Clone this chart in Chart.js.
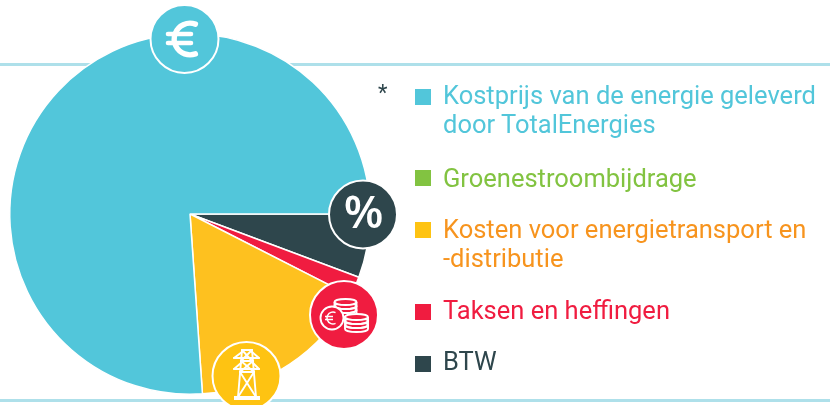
<!DOCTYPE html>
<html><head><meta charset="utf-8">
<script src="https://cdn.jsdelivr.net/npm/chart.js@4"></script>
<style>
html,body{margin:0;padding:0;background:#fff;width:830px;height:405px;overflow:hidden}
#wrap{position:relative;width:830px;height:405px}
canvas{position:absolute;left:0;top:0}
.lg{position:absolute;left:443px;font:400 25.5px/29px Roboto,sans-serif;white-space:pre;letter-spacing:0}
.sw{position:absolute;left:415px;width:16px;height:16px}
#star{position:absolute;left:378px;top:83px;font:400 22px/20px Roboto,sans-serif;color:#2e464c}
</style></head><body>
<div id="wrap"><canvas id="c" width="830" height="405"></canvas><div id="star">*</div></div>
<script>
const categories=["Kostprijs van de energie geleverd\ndoor TotalEnergies","Groenestroombijdrage","Kosten voor energietransport en\n-distributie","Taksen en heffingen","BTW"];
const shares=[76.1,0,16.4,1.8,5.7];
const sliceColors=["#52c6da","#82c341","#fec11f","#f01c40","#2e464c"];
const textColors=["#52c6da","#82c341","#f7941e","#f01c40","#2e464c"];
const legendTops=[81,164,215,296,347];
const swatchTops=[89,170,222,304,356];

const wrap=document.getElementById('wrap');
categories.forEach((t,i)=>{
  const s=document.createElement('div');s.className='sw';s.style.top=swatchTops[i]+'px';s.style.background=i===2?'#fec312':sliceColors[i];wrap.appendChild(s);
  const d=document.createElement('div');d.className='lg';d.style.top=legendTops[i]+'px';d.style.color=textColors[i];d.textContent=t;wrap.appendChild(d);
});

function disc(ctx,x,y,col){ctx.beginPath();ctx.arc(x,y,34,0,Math.PI*2);ctx.fillStyle=col;ctx.fill();ctx.lineWidth=2;ctx.strokeStyle='#fff';ctx.stroke();}
function coin(ctx,x,y,w,h,n){
  for(let i=n-1;i>=0;i--){
    const cy=y+i*h;
    ctx.beginPath();ctx.ellipse(x,cy,w,h*0.75,0,0,Math.PI*2);ctx.fillStyle='#f01c40';ctx.fill();ctx.stroke();
    ctx.beginPath();ctx.moveTo(x-w,cy);ctx.lineTo(x-w,cy+h);ctx.ellipse(x,cy+h,w,h*0.75,0,Math.PI,0,true);ctx.lineTo(x+w,cy);ctx.stroke();
  }
}
const deco={id:'deco',
 beforeDraw(ch){const c=ch.ctx;c.save();c.fillStyle='#aee0ea';c.fillRect(0,63,830,3);c.fillRect(0,399,830,3);c.restore();},
 afterDraw(ch){const c=ch.ctx;c.save();
  c.textAlign='center';c.textBaseline='middle';
  disc(c,184.5,39,sliceColors[0]);
  c.strokeStyle='#fff';c.lineWidth=5.4;c.lineCap='round';
  c.beginPath();c.arc(190,39,15.8,-70*Math.PI/180,70*Math.PI/180,true);c.stroke();
  c.lineWidth=4.6;
  c.beginPath();c.moveTo(168,34);c.lineTo(191,34);c.moveTo(168,43);c.lineTo(191,43);c.stroke();
  c.lineCap='butt';
  disc(c,363,214.5,sliceColors[4]);
  c.fillStyle='#fff';c.font='600 46px "Open Sans",sans-serif';c.fillText('%',363.5,215);
  disc(c,344,315,sliceColors[3]);
  c.strokeStyle='#fff';c.lineWidth=1.9;
  coin(c,345.5,302,11,4,3);
  coin(c,356.5,317,11.5,4,3);
  c.beginPath();c.arc(332,318,11.5,0,Math.PI*2);c.fillStyle='#f01c40';c.fill();c.stroke();
  c.lineWidth=1.5;c.beginPath();c.arc(333,318,6,-65*Math.PI/180,65*Math.PI/180,true);c.stroke();
  c.beginPath();c.moveTo(325,316.5);c.lineTo(333,316.5);c.moveTo(325,319.5);c.lineTo(333,319.5);c.stroke();
  disc(c,246.5,376,'#fec312');
  c.strokeStyle='#fff';c.lineWidth=1.9;c.lineCap='round';
  const t=[[238,397,242,350],[256,397,252,350],[242,350,252,350],[241,361,253,361],[240,372,254,372],[234,358,259,358],[234,369,259,369],[242,350,252,361],[252,350,241,361],[241,361,254,372],[253,361,240,372],[240,372,256,397],[254,372,238,397],[234,358,242,352],[259,358,252,352],[234,369,241,363],[259,369,253,363]];
  t.forEach(s=>{c.beginPath();c.moveTo(s[0],s[1]);c.lineTo(s[2],s[3]);c.stroke();});
  c.lineCap='butt';c.fillStyle='#fff';c.fillRect(234,396,26,4);
  c.restore();}
};
new Chart(document.getElementById('c'),{
 type:'pie',
 data:{labels:[...categories].reverse(),datasets:[{data:[...shares].reverse(),backgroundColor:[...sliceColors].reverse(),borderColor:'#fff',borderWidth:1.5}]},
 options:{responsive:false,animation:false,rotation:90,
  layout:{padding:{left:9,top:33,right:459,bottom:10}},
  plugins:{legend:{display:false},tooltip:{enabled:false},title:{display:false}}},
 plugins:[deco]
});
</script></body></html>
